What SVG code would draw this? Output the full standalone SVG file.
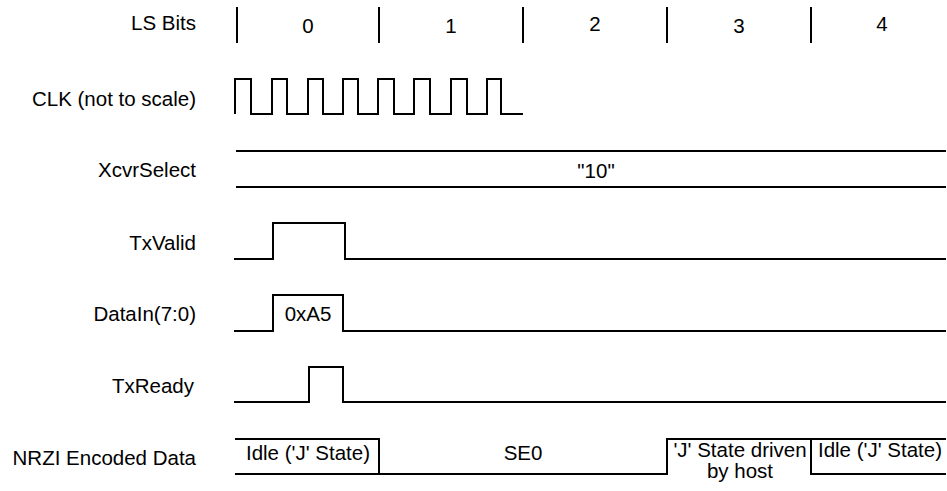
<svg xmlns="http://www.w3.org/2000/svg" width="947" height="491" viewBox="0 0 947 491">
<style>
text{font-family:"Liberation Sans",Arial,sans-serif;font-size:20.5px;fill:#000}
.l{text-anchor:end}
.c{text-anchor:middle}
.w{fill:none;stroke:#000;stroke-width:2}
</style>
<rect width="947" height="491" fill="#fff"/>
<g id="labels">
<text class="l" x="196" y="30">LS Bits</text>
<text class="l" x="196" y="106">CLK (not to scale)</text>
<text class="l" x="196" y="177">XcvrSelect</text>
<text class="l" x="196" y="250">TxValid</text>
<text class="l" x="196" y="321">DataIn(7:0)</text>
<text class="l" x="194" y="393">TxReady</text>
<text class="l" x="196" y="465">NRZI Encoded Data</text>
</g>
<g id="lsbits">
<path class="w" d="M237,7V43M379,7V43M523,7V43M667,7V43M811,7V43"/>
<text class="c" x="308" y="33">0</text>
<text class="c" x="451" y="33">1</text>
<text class="c" x="595" y="31">2</text>
<text class="c" x="739" y="33">3</text>
<text class="c" x="882" y="31">4</text>
</g>
<g id="clk">
<path class="w" d="M235,114V79H251V114H272V79H287V114H308V79H323V114H343V79H358V114H378V79H394V114H414V79H430V114H451V79H467V114H487V79H501V114H523"/>
</g>
<g id="xcvrselect">
<path class="w" d="M236,151H946M236,187H946"/>
<text class="c" x="596" y="178">"10"</text>
</g>
<g id="txvalid">
<path class="w" d="M234,259H273V223H345V259H946"/>
</g>
<g id="datain">
<path class="w" d="M234,331H273V295H343V331H946"/>
<text class="c" x="308" y="321">0xA5</text>
</g>
<g id="txready">
<path class="w" d="M234,402H309V367H343V402H946"/>
</g>
<g id="nrzi">
<path class="w" d="M235,439H379V474M235,474H667V439H946M811,439V474H946"/>
<text class="c" x="308" y="460">Idle ('J' State)</text>
<text class="c" x="523" y="460">SE0</text>
<text class="c" x="740" y="457">'J' State driven</text>
<text class="c" x="740" y="478">by host</text>
<text class="c" x="880" y="457">Idle ('J' State)</text>
</g>
<g id="connectors"/>
</svg>
